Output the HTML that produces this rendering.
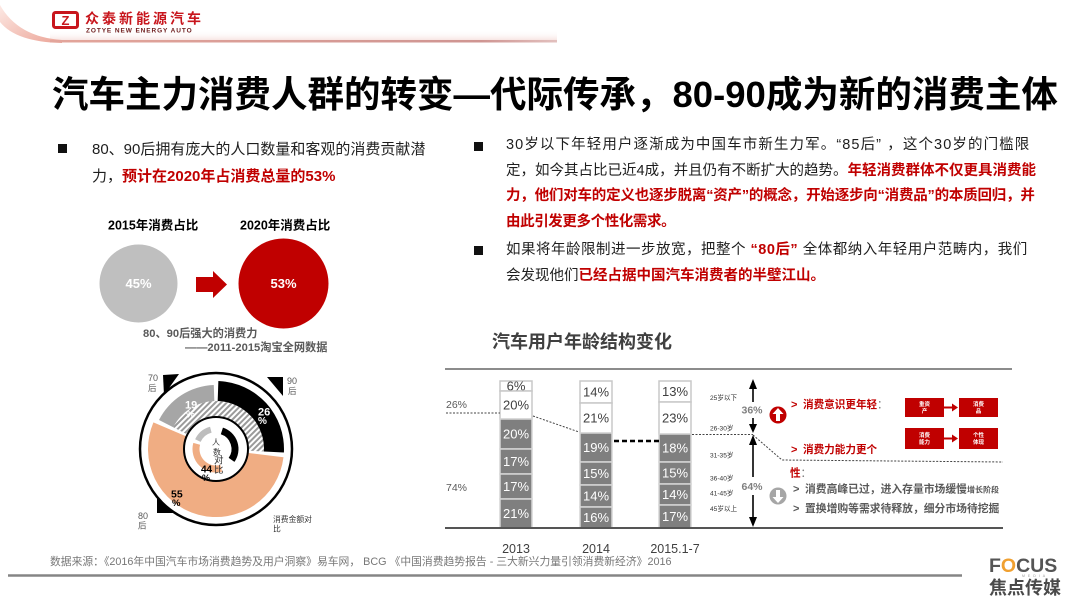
<!DOCTYPE html>
<html><head><meta charset="utf-8">
<style>
*{margin:0;padding:0;box-sizing:border-box}
html,body{width:1080px;height:608px;background:#fff;overflow:hidden}
body{font-family:"Liberation Sans","Noto Sans CJK SC",sans-serif;color:#1e1e1e;position:relative}
.a{position:absolute;white-space:nowrap}
.r{color:#c00000;font-weight:bold}
.sq{position:absolute;width:9px;height:9px;background:#111}
.ln{display:block;white-space:nowrap}
svg text{font-family:"Liberation Sans","Noto Sans CJK SC",sans-serif}
.w{fill:#fff;stroke:#c8c8c8;stroke-width:1.5}
.g{fill:#7f7f7f;stroke:#d6d6d6;stroke-width:1.5}
.bt{font-size:13px;text-anchor:middle;fill:#fff}
.bw{font-size:13px;text-anchor:middle;fill:#404040}
.age{font-size:6.6px;fill:#333}
</style></head><body>
<svg class="a" style="left:0;top:0" width="1080" height="608" viewBox="0 0 1080 608">
<defs>
<linearGradient id="hg" x1="0" x2="1" y1="0" y2="0"><stop offset="0" stop-color="#e3a59b"/><stop offset="0.85" stop-color="#cf9592"/><stop offset="1" stop-color="#e2c0be"/></linearGradient>
<linearGradient id="sw" x1="0" y1="0" x2="1" y2="1"><stop offset="0" stop-color="#fde9e4"/><stop offset="1" stop-color="#eba497"/></linearGradient>
<linearGradient id="glow" x1="0" x2="0" y1="0" y2="1"><stop offset="0" stop-color="#fff" stop-opacity="0"/><stop offset="1" stop-color="#f8e6e4"/></linearGradient>
<pattern id="hatch" width="4" height="4" patternUnits="userSpaceOnUse" patternTransform="rotate(45)"><rect width="4" height="4" fill="#fff"/><rect width="2" height="4" fill="#9a9a9a"/></pattern>
</defs>

<!-- header -->
<rect x="50" y="30" width="507" height="10" fill="url(#glow)"/>
<path d="M0,5 Q18,37 62,40 L62,43 Q16,42 0,22 Z" fill="url(#sw)"/>
<rect x="50" y="40" width="507" height="2.5" fill="url(#hg)"/>
<rect x="53.5" y="12.5" width="24" height="15" rx="2" fill="#fff" stroke="#c8161d" stroke-width="3"/>
<text x="65.5" y="25" font-size="13" font-weight="bold" fill="#c8161d" text-anchor="middle">Z</text>
<text x="85" y="23.5" font-size="14" font-weight="bold" fill="#c8161d" letter-spacing="3">众泰新能源汽车</text>
<text x="86" y="32.5" font-size="6.5" font-weight="bold" fill="#6e1c1c" letter-spacing="0.9">ZOTYE NEW ENERGY AUTO</text>

<!-- left circles -->
<text x="108" y="229.5" font-size="12.5" font-weight="bold" fill="#000">2015年消费占比</text>
<text x="240" y="229.5" font-size="12.5" font-weight="bold" fill="#000">2020年消费占比</text>
<circle cx="138.5" cy="283.5" r="39" fill="#bfbfbf"/>
<text x="138.5" y="288" text-anchor="middle" font-size="13" font-weight="bold" fill="#fff">45%</text>
<polygon points="196,277 213,277 213,271 227,284.5 213,298 213,292 196,292" fill="#c00000"/>
<circle cx="283.5" cy="283.5" r="45" fill="#c00000"/>
<text x="283.5" y="288" text-anchor="middle" font-size="13" font-weight="bold" fill="#fff">53%</text>
<text x="143" y="337" font-size="11.2" font-weight="bold" fill="#595959">80、90后强大的消费力</text>
<text x="185" y="351" font-size="11.2" font-weight="bold" fill="#595959">——2011-2015淘宝全网数据</text>

<!-- radial chart -->
<polygon points="163,375 179,374 164,395" fill="#000"/>
<polygon points="267,377 283,377 283,396" fill="#000"/>
<polygon points="157,496 157,513 173,513" fill="#000"/>
<circle cx="216" cy="449" r="76" fill="#fff" stroke="#000" stroke-width="2.5"/>
<path d="M173.23,427.21 A48,48 0 0 1 263.93,451.51 L247.96,450.67 A32,32 0 0 0 187.49,434.47 Z" fill="url(#hatch)"/>
<path d="M158.98,419.94 A64,64 0 0 1 213.77,385.04 L214.32,401.03 A48,48 0 0 0 173.23,427.21 Z" fill="#a6a6a6"/>
<path d="M218.37,381.04 A68,68 0 0 1 283.90,452.56 L263.93,451.51 A48,48 0 0 0 217.68,401.03 Z" fill="#000"/>
<path d="M283.49,457.29 A68,68 0 1 1 153.41,422.43 L186.54,436.50 A32,32 0 1 0 247.76,452.90 Z" fill="#f0ad83"/>
<circle cx="216" cy="449" r="32" fill="#fff" stroke="#000" stroke-width="2"/>
<path d="M221.87,430.93 A19,19 0 0 1 231.56,459.90" fill="none" stroke="#000" stroke-width="7"/>
<path d="M221.18,468.32 A20,20 0 0 1 196.68,443.82" fill="none" stroke="#f0ad83" stroke-width="7"/>
<path d="M197.87,440.55 A20,20 0 0 1 210.82,429.68" fill="none" stroke="#bdbdbd" stroke-width="6"/>
<text x="212" y="445" font-size="8" fill="#333">人</text>
<text x="213" y="455" font-size="8" fill="#333">数</text>
<text x="214" y="463.5" font-size="9.5" fill="#333">对</text>
<text x="214" y="473" font-size="9.5" fill="#333">比</text>
<text x="201" y="472.5" font-size="10" font-weight="bold" fill="#000">44</text>
<text x="202" y="481" font-size="9" font-weight="bold" fill="#000">%</text>
<text x="258" y="415.5" font-size="11" font-weight="bold" fill="#fff">26</text>
<text x="258" y="424" font-size="10" font-weight="bold" fill="#fff">%</text>
<text x="185" y="408.5" font-size="11" font-weight="bold" fill="#fff">19</text>
<text x="186" y="417.5" font-size="10" font-weight="bold" fill="#fff">%</text>
<text x="171" y="497.5" font-size="10.5" font-weight="bold" fill="#000">55</text>
<text x="172" y="506" font-size="9.5" font-weight="bold" fill="#000">%</text>
<text x="148" y="381" font-size="9" fill="#595959">70</text>
<text x="148" y="391" font-size="8.5" fill="#595959">后</text>
<text x="287" y="384" font-size="9" fill="#595959">90</text>
<text x="288" y="394" font-size="8.5" fill="#595959">后</text>
<text x="138" y="519" font-size="9" fill="#595959">80</text>
<text x="138" y="528.5" font-size="8.5" fill="#595959">后</text>
<text x="273" y="522" font-size="7.8" fill="#333">消费金额对</text>
<text x="273" y="531.5" font-size="7.8" fill="#333">比</text>

<!-- stacked chart -->
<text x="492" y="348" font-size="18" font-weight="bold" fill="#404040">汽车用户年龄结构变化</text>
<line x1="445" y1="369" x2="1012" y2="369" stroke="#666" stroke-width="1.5"/>
<text x="446" y="408" font-size="10.5" fill="#595959">26%</text>
<text x="446" y="491" font-size="10.5" fill="#595959">74%</text>

<rect x="500" y="381" width="32" height="10" class="w"/><text x="516" y="390.5" class="bw">6%</text>
<rect x="500" y="391" width="32" height="28" class="w"/><text x="516" y="409.5" class="bw">20%</text>
<rect x="500" y="419" width="32" height="30" class="g"/><text x="516" y="438.5" class="bt">20%</text>
<rect x="500" y="449" width="32" height="25" class="g"/><text x="516" y="466" class="bt">17%</text>
<rect x="500" y="474" width="32" height="25" class="g"/><text x="516" y="491" class="bt">17%</text>
<rect x="500" y="499" width="32" height="29" class="g"/><text x="516" y="518" class="bt">21%</text>

<rect x="580" y="381" width="32" height="22" class="w"/><text x="596" y="396.5" class="bw">14%</text>
<rect x="580" y="403" width="32" height="30" class="w"/><text x="596" y="422.5" class="bw">21%</text>
<rect x="580" y="433" width="32" height="29" class="g"/><text x="596" y="452" class="bt">19%</text>
<rect x="580" y="462" width="32" height="23" class="g"/><text x="596" y="478" class="bt">15%</text>
<rect x="580" y="485" width="32" height="22" class="g"/><text x="596" y="500.5" class="bt">14%</text>
<rect x="580" y="507" width="32" height="21" class="g"/><text x="596" y="522" class="bt">16%</text>

<rect x="659" y="381" width="32" height="21" class="w"/><text x="675" y="396" class="bw">13%</text>
<rect x="659" y="402" width="32" height="32" class="w"/><text x="675" y="422.5" class="bw">23%</text>
<rect x="659" y="434" width="32" height="28" class="g"/><text x="675" y="452.5" class="bt">18%</text>
<rect x="659" y="462" width="32" height="22" class="g"/><text x="675" y="477.5" class="bt">15%</text>
<rect x="659" y="484" width="32" height="21" class="g"/><text x="675" y="499" class="bt">14%</text>
<rect x="659" y="505" width="32" height="23" class="g"/><text x="675" y="521" class="bt">17%</text>

<line x1="445" y1="528" x2="1003" y2="528" stroke="#555" stroke-width="2"/>

<g stroke="#444" stroke-width="1" stroke-dasharray="2,1.5" fill="none">
<line x1="446" y1="413" x2="500" y2="413"/>
<line x1="533" y1="416" x2="579" y2="432"/>
<line x1="692" y1="434.5" x2="753" y2="434.5"/>
<polyline points="753,435 782,460 1003,462"/>
</g>
<line x1="614" y1="441" x2="659" y2="441" stroke="#000" stroke-width="2.5" stroke-dasharray="5,3"/>

<g stroke="#000" stroke-width="1.6" fill="none">
<line x1="753" y1="387" x2="753" y2="402"/>
<line x1="753" y1="418" x2="753" y2="426"/>
<line x1="753" y1="443" x2="753" y2="477"/>
<line x1="753" y1="495" x2="753" y2="518"/>
</g>
<polygon points="753,379 749,389 757,389" fill="#000"/>
<polygon points="753,433 749,424 757,424" fill="#000"/>
<polygon points="753,435 749,445 757,445" fill="#000"/>
<polygon points="753,527 749,517 757,517" fill="#000"/>
<text x="752" y="413.5" text-anchor="middle" font-size="10.5" font-weight="bold" fill="#7f7f7f">36%</text>
<text x="752" y="490" text-anchor="middle" font-size="10.5" font-weight="bold" fill="#7f7f7f">64%</text>

<text x="710" y="400" class="age">25岁以下</text>
<text x="710" y="430.5" class="age">26-30岁</text>
<text x="710" y="457.5" class="age">31-35岁</text>
<text x="710" y="480.5" class="age">36-40岁</text>
<text x="710" y="495.5" class="age">41-45岁</text>
<text x="710" y="511" class="age">45岁以上</text>

<text x="516" y="553" text-anchor="middle" font-size="12.5" fill="#404040">2013</text>
<text x="596" y="553" text-anchor="middle" font-size="12.5" fill="#404040">2014</text>
<text x="675" y="553" text-anchor="middle" font-size="12.5" fill="#404040">2015.1-7</text>

<!-- right annotations -->
<circle cx="778" cy="415" r="8.5" fill="#c00000"/>
<polygon points="778,408 772.5,414 776,414 776,421 780,421 780,414 783.5,414" fill="#fff"/>
<circle cx="778" cy="496" r="8.5" fill="#a6a6a6"/>
<polygon points="778,503 772.5,497 776,497 776,490 780,490 780,497 783.5,497" fill="#fff"/>
<text x="791" y="408" font-size="11" font-weight="bold" fill="#c00000">&gt;</text>
<text x="803" y="408" font-size="10.6" font-weight="bold" fill="#c00000">消费意识更年轻<tspan fill="#7f7f7f" font-weight="normal">：</tspan></text>
<text x="791" y="453" font-size="11" font-weight="bold" fill="#c00000">&gt;</text>
<text x="803" y="453" font-size="10.6" font-weight="bold" fill="#c00000">消费力能力更个</text>
<text x="790" y="476.5" font-size="10.6" font-weight="bold" fill="#c00000">性<tspan fill="#7f7f7f" font-weight="normal">：</tspan></text>
<text x="793" y="492.5" font-size="11" font-weight="bold" fill="#595959">&gt;</text>
<text x="805" y="492.5" font-size="10.8" font-weight="bold" fill="#595959">消费高峰已过，进入存量市场缓慢<tspan font-size="8">增长阶段</tspan></text>
<text x="793" y="512" font-size="11" font-weight="bold" fill="#595959">&gt;</text>
<text x="805" y="512" font-size="10.8" font-weight="bold" fill="#595959">置换增购等需求待释放，细分市场待挖掘</text>

<rect x="905" y="398" width="39" height="19" fill="#c00000"/>
<rect x="959" y="398" width="39" height="19" fill="#c00000"/>
<rect x="905" y="428" width="39" height="21" fill="#c00000"/>
<rect x="959" y="428" width="39" height="21" fill="#c00000"/>
<g font-size="5.5" font-weight="bold" fill="#fff" text-anchor="middle">
<text x="924.5" y="406">重资</text><text x="924.5" y="413">产</text>
<text x="978.5" y="406">消费</text><text x="978.5" y="413">品</text>
<text x="924.5" y="437">消费</text><text x="924.5" y="444">能力</text>
<text x="978.5" y="437">个性</text><text x="978.5" y="444">体现</text>
</g>
<line x1="944" y1="407.5" x2="953" y2="407.5" stroke="#c00000" stroke-width="2"/>
<polygon points="958,407.5 952,403.5 952,411.5" fill="#c00000"/>
<line x1="944" y1="438.5" x2="953" y2="438.5" stroke="#c00000" stroke-width="2"/>
<polygon points="958,438.5 952,434.5 952,442.5" fill="#c00000"/>

<!-- footer -->
<text x="50" y="565" font-size="10.8" fill="#777">数据来源：《2016年中国汽车市场消费趋势及用户洞察》易车网， BCG 《中国消费趋势报告 - 三大新兴力量引领消费新经济》2016</text>
<line x1="8" y1="575.5" x2="962" y2="575.5" stroke="#858585" stroke-width="2.5"/>
<text x="989" y="572" font-size="19.5" font-weight="bold" fill="#555">F<tspan fill="#f0a030">O</tspan>CUS</text>
<text x="1022" y="577" font-size="3.5" fill="#999" letter-spacing="3">MEDIA</text>
<text x="989" y="594" font-size="18" font-weight="bold" fill="#4a4a4a">焦点传媒</text>
</svg>

<div class="a" style="left:52px;top:75px;font-size:36.5px;font-weight:bold;line-height:40px;color:#000">汽车主力消费人群的转变—代际传承，80-90成为新的消费主体</div>

<div class="sq" style="left:58px;top:144px"></div>
<div class="a" style="left:92px;top:135.5px;font-size:15px;line-height:27px">
<span class="ln">80、90后拥有庞大的人口数量和客观的消费贡献潜</span>
<span class="ln">力，<span class="r">预计在2020年占消费总量的53%</span></span>
</div>

<div class="sq" style="left:474px;top:142px"></div>
<div class="a" style="left:506px;top:133px;font-size:14.5px;line-height:25.7px">
<span class="ln" style="letter-spacing:1.1px">30岁以下年轻用户逐渐成为中国车市新生力军。“85后” ，这个30岁的门槛限</span>
<span class="ln">定，如今其占比已近4成，并且仍有不断扩大的趋势。<span class="r">年轻消费群体不仅更具消费能</span></span>
<span class="ln r" style="letter-spacing:-0.2px">力，他们对车的定义也逐步脱离“资产”的概念，开始逐步向“消费品”的本质回归，并</span>
<span class="ln r" style="letter-spacing:-0.4px">由此引发更多个性化需求。</span>
</div>

<div class="sq" style="left:474px;top:246px"></div>
<div class="a" style="left:506px;top:237px;font-size:14.5px;line-height:26px">
<span class="ln" style="letter-spacing:0.5px">如果将年龄限制进一步放宽，把整个 <span class="r">“80后”</span> 全体都纳入年轻用户范畴内，我们</span>
<span class="ln">会发现他们<span class="r">已经占据中国汽车消费者的半壁江山。</span></span>
</div>
</body></html>
